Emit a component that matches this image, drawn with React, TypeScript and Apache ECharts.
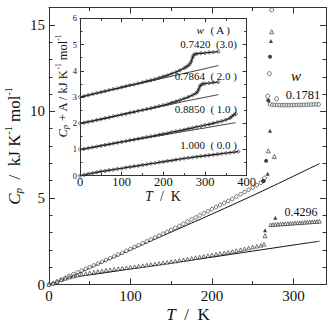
import React, { useEffect, useRef } from "react";
import * as echarts from "echarts";

// ---------- main plot data (T / K, Cp / kJ K-1 mol-1) ----------
const w1781Data: [number, number][] = [
  [0, 0], [5, 0.06], [10, 0.17], [15, 0.28], [20, 0.39], [25, 0.5], [30, 0.6], [35, 0.7], [40, 0.8], [45, 0.9],
  [50, 1.0], [55, 1.1], [60, 1.2], [65, 1.31], [70, 1.41], [75, 1.52], [80, 1.62], [85, 1.73], [90, 1.83], [95, 1.94],
  [100, 2.05], [105, 2.16], [110, 2.27], [115, 2.38], [120, 2.49], [125, 2.6], [130, 2.71], [135, 2.82], [140, 2.93],
  [145, 3.04], [150, 3.15], [155, 3.27], [160, 3.39], [165, 3.51], [170, 3.63], [175, 3.75], [180, 3.87], [185, 3.99],
  [190, 4.11], [195, 4.23], [200, 4.35], [205, 4.47], [210, 4.59], [215, 4.71], [220, 4.83], [225, 4.95], [230, 5.08],
  [235, 5.21], [240, 5.34], [245, 5.47], [250, 5.6], [255, 5.74], [260, 5.88], [263, 5.98],
  [271, 10.42], [274, 10.38], [277, 10.37], [280, 10.37], [283, 10.36], [286, 10.36], [289, 10.36], [292, 10.36],
  [295, 10.36], [298, 10.36], [301, 10.37], [304, 10.37], [307, 10.37], [310, 10.37], [313, 10.38], [316, 10.38],
  [319, 10.39], [322, 10.39], [325, 10.4], [328, 10.4], [331, 10.4],
];
const w1781OpenCircles: [number, number][] = [[264.5, 6.15], [268.4, 10.88], [270.5, 12.18], [273.3, 15.86], [279.4, 10.73]];
const w1781FilledCircles: [number, number][] = [[263.3, 5.98], [266.5, 7.14], [269.2, 10.63], [271.3, 13.15]];
const w1781OpenTriangles: [number, number][] = [[269.2, 7.72], [276.6, 7.4], [273.3, 14.6]];
const w1781FilledTriangles: [number, number][] = [[268.4, 6.4], [271.3, 8.88], [272.5, 14.06]];
const w1781Lattice: [number, number][] = [[0, 0], [20, 0.3], [50, 0.95], [100, 2.0], [150, 3.03], [200, 4.07], [262, 5.4], [332, 6.98]];

const w4296Data: [number, number][] = [
  [0, 0], [5, 0.07], [10, 0.17], [15, 0.27], [20, 0.35], [25, 0.42], [30, 0.48], [35, 0.54], [40, 0.59], [45, 0.63],
  [50, 0.67], [55, 0.71], [60, 0.75], [65, 0.78], [70, 0.82], [75, 0.85], [80, 0.88], [85, 0.91], [90, 0.94], [95, 0.97],
  [100, 1.0], [105, 1.03], [110, 1.06], [115, 1.09], [120, 1.12], [125, 1.15], [130, 1.18], [135, 1.22], [140, 1.25],
  [145, 1.28], [150, 1.32], [155, 1.35], [160, 1.39], [165, 1.43], [170, 1.47], [175, 1.51], [180, 1.55], [185, 1.59],
  [190, 1.63], [195, 1.67], [200, 1.71], [205, 1.75], [210, 1.79], [215, 1.83], [220, 1.87], [225, 1.91], [230, 1.96],
  [235, 2.01], [240, 2.06], [245, 2.11], [250, 2.16], [255, 2.21], [260, 2.26], [264, 2.32],
  [272, 3.45], [275, 3.46], [278, 3.47], [281, 3.48], [284, 3.49], [287, 3.5], [290, 3.51], [293, 3.52], [296, 3.53],
  [299, 3.54], [302, 3.55], [305, 3.56], [308, 3.57], [311, 3.58], [314, 3.59], [317, 3.6], [320, 3.61], [323, 3.62],
  [326, 3.63], [329, 3.64], [332, 3.65],
];
const w4296FilledTriangles: [number, number][] = [[265.2, 3.13], [277.8, 3.85]];
const w4296OpenTriangles: [number, number][] = [[265.2, 2.82]];
const w4296Lattice: [number, number][] = [[0, 0], [10, 0.15], [20, 0.3], [30, 0.42], [40, 0.5], [60, 0.62], [100, 0.9], [150, 1.24], [200, 1.58], [250, 1.93], [300, 2.28], [332, 2.5]];

// ---------- inset data (T / K, Cp + A) ----------
const ins0742: [number, number][] = [
  [0, 3.0], [10, 3.03], [20, 3.07], [30, 3.11], [40, 3.15], [50, 3.18], [60, 3.22], [70, 3.26], [80, 3.3], [90, 3.33],
  [100, 3.37], [110, 3.41], [120, 3.45], [130, 3.48], [140, 3.52], [150, 3.56], [160, 3.6], [170, 3.64], [180, 3.68],
  [190, 3.73], [200, 3.78], [210, 3.83], [220, 3.89], [230, 3.95], [240, 4.02], [250, 4.1], [255, 4.15], [260, 4.2],
  [264, 4.27], [267, 4.36], [270, 4.5], [272, 4.58], [275, 4.63], [280, 4.65], [290, 4.67], [300, 4.68], [310, 4.7],
  [320, 4.71], [332, 4.73],
];
const ins0742Base: [number, number][] = [[0, 3.0], [50, 3.18], [100, 3.36], [150, 3.54], [200, 3.72], [250, 3.9], [300, 4.08], [332, 4.2]];
const ins0786: [number, number][] = [
  [0, 2.0], [10, 2.02], [20, 2.05], [30, 2.08], [40, 2.12], [50, 2.15], [60, 2.19], [70, 2.22], [80, 2.26], [90, 2.29],
  [100, 2.33], [110, 2.36], [120, 2.4], [130, 2.43], [140, 2.47], [150, 2.5], [160, 2.54], [170, 2.57], [180, 2.61],
  [190, 2.65], [200, 2.69], [210, 2.73], [220, 2.78], [230, 2.83], [240, 2.88], [250, 2.94], [260, 3.0], [270, 3.07],
  [278, 3.14], [282, 3.2], [285, 3.3], [288, 3.42], [291, 3.47], [295, 3.5], [300, 3.51], [310, 3.53], [320, 3.55],
  [332, 3.57],
];
const ins0786Base: [number, number][] = [[0, 2.0], [50, 2.16], [100, 2.33], [150, 2.5], [200, 2.66], [250, 2.83], [300, 2.99], [332, 3.09]];
const ins0885: [number, number][] = [
  [0, 1.0], [10, 1.02], [20, 1.05], [30, 1.08], [40, 1.11], [50, 1.14], [60, 1.17], [70, 1.2], [80, 1.23], [90, 1.26],
  [100, 1.29], [110, 1.32], [120, 1.35], [130, 1.38], [140, 1.41], [150, 1.44], [160, 1.47], [170, 1.5], [180, 1.53],
  [190, 1.56], [200, 1.59], [210, 1.62], [220, 1.66], [230, 1.69], [240, 1.72], [250, 1.75], [260, 1.79], [270, 1.82],
  [280, 1.86], [290, 1.89], [300, 1.93], [310, 1.96], [320, 2.0], [330, 2.04], [340, 2.08], [350, 2.13], [360, 2.2],
  [365, 2.27], [370, 2.33], [374, 2.35],
];
const ins0885Base: [number, number][] = [[0, 1.0], [50, 1.14], [100, 1.28], [150, 1.42], [200, 1.55], [250, 1.69], [300, 1.82], [350, 1.96], [373, 2.02]];
const ins1000: [number, number][] = [
  [0, 0], [10, 0.03], [20, 0.07], [30, 0.1], [40, 0.13], [50, 0.16], [60, 0.18], [70, 0.21], [80, 0.23], [90, 0.26],
  [100, 0.28], [110, 0.31], [120, 0.33], [130, 0.36], [140, 0.38], [150, 0.41], [160, 0.43], [170, 0.46], [180, 0.48],
  [190, 0.51], [200, 0.53], [210, 0.56], [220, 0.58], [230, 0.61], [240, 0.63], [250, 0.66], [260, 0.68], [270, 0.7],
  [280, 0.72], [290, 0.74], [300, 0.76], [310, 0.78], [320, 0.8], [330, 0.82], [340, 0.84], [350, 0.86], [360, 0.88],
  [370, 0.9], [380, 0.92],
];

const mainXTicks = [0, 100, 200, 300];
const mainYTicks = [0, 5, 10, 15];
const insetXTicks = [0, 100, 200, 300, 400];
const insetYTicks = [0, 1, 2, 3, 4, 5, 6];

const insetLabels = [
  { text: "0.7420  (3.0)", y: 44 },
  { text: "0.7864  ( 2.0 )", y: 76 },
  { text: "0.8850  ( 1.0 )", y: 108.5 },
  { text: "1.000  ( 0.0 )", y: 145 },
];

const SERIF = "'Liberation Serif', 'DejaVu Serif', serif";
const INK = "#222";
const AXIS = "#333";

function axis(extra: any) {
  return {
    type: "value",
    axisLine: { show: true, onZero: false, lineStyle: { color: AXIS, width: 1 } },
    splitLine: { show: false },
    minorSplitLine: { show: false },
    ...extra,
  };
}

export default function App() {
  const ref = useRef<HTMLDivElement>(null);
  useEffect(() => {
    if (!ref.current) return;
    const chart = echarts.init(ref.current, undefined, { renderer: "svg" });

    const mainTick = { show: true, inside: true, length: 6, lineStyle: { color: AXIS } };
    const mainMinorX = { show: true, splitNumber: 2, length: 3.5, lineStyle: { color: AXIS } };
    const mainMinorY = { show: true, splitNumber: 5, length: 3.5, lineStyle: { color: AXIS } };
    const insTick = { show: true, inside: true, length: 4, lineStyle: { color: AXIS } };
    const insMinor = { show: true, splitNumber: 2, length: 2.5, lineStyle: { color: AXIS } };

    const fmt = (ticks: number[]) => (v: number) => (ticks.includes(v) ? String(v) : "");

    const openSym = (sym: string, size: number, data: [number, number][]) => ({
      type: "scatter",
      xAxisIndex: 0,
      yAxisIndex: 0,
      symbol: sym,
      symbolSize: size,
      data,
      itemStyle: { color: "#fff", borderColor: INK, borderWidth: 0.8 },
      z: 3,
    });
    const filledSym = (sym: string, size: number, data: [number, number][]) => ({
      type: "scatter",
      xAxisIndex: 0,
      yAxisIndex: 0,
      symbol: sym,
      symbolSize: size,
      data,
      itemStyle: { color: "#111" },
      z: 4,
    });
    const thinLine = (data: [number, number][], xi: number, yi: number, w = 1, z = 2) => ({
      type: "line",
      xAxisIndex: xi,
      yAxisIndex: yi,
      data,
      showSymbol: false,
      smooth: 0.3,
      lineStyle: { color: "#111", width: w },
      z,
    });
    const insetCurve = (data: [number, number][]) => ({
      type: "line",
      xAxisIndex: 2,
      yAxisIndex: 2,
      data,
      symbol: "circle",
      symbolSize: 3,
      showSymbol: true,
      lineStyle: { color: INK, width: 1.4 },
      itemStyle: { color: "transparent", borderColor: "#333", borderWidth: 0.7 },
      z: 8,
    });

    chart.setOption({
      animation: false,
      backgroundColor: "#fff",
      grid: [
        { left: 49, top: 7.5, width: 277, height: 277 },
        { left: 80, top: 18.3, width: 166.7, height: 157.4, show: true, backgroundColor: "#fff", borderWidth: 0, z: 5 },
      ],
      xAxis: [
        axis({
          gridIndex: 0, position: "bottom", min: 0, max: 340, interval: 100,
          axisTick: mainTick, minorTick: mainMinorX,
          axisLabel: { fontSize: 15, fontFamily: SERIF, color: "#111", margin: 4, formatter: fmt(mainXTicks) },
        }),
        axis({
          gridIndex: 0, position: "top", min: 0, max: 340, interval: 100,
          axisTick: mainTick, minorTick: mainMinorX, axisLabel: { show: false },
        }),
        axis({
          gridIndex: 1, position: "bottom", min: 0, max: 400, interval: 100, z: 9,
          axisTick: insTick, minorTick: insMinor,
          axisLabel: { fontSize: 12.5, fontFamily: SERIF, color: "#111", margin: 0, formatter: fmt(insetXTicks) },
        }),
        axis({
          gridIndex: 1, position: "top", min: 0, max: 400, interval: 100, z: 9,
          axisTick: insTick, minorTick: insMinor, axisLabel: { show: false },
        }),
      ],
      yAxis: [
        axis({
          gridIndex: 0, position: "left", min: 0, max: 16, interval: 5,
          axisTick: mainTick, minorTick: mainMinorY,
          axisLabel: { fontSize: 15, fontFamily: SERIF, color: "#111", margin: 4, formatter: fmt(mainYTicks) },
        }),
        axis({
          gridIndex: 0, position: "right", min: 0, max: 16, interval: 5,
          axisTick: mainTick, minorTick: mainMinorY, axisLabel: { show: false },
        }),
        axis({
          gridIndex: 1, position: "left", min: 0, max: 6, interval: 1, z: 9,
          axisTick: insTick, minorTick: insMinor,
          axisLabel: { fontSize: 8.5, fontFamily: SERIF, color: "#111", margin: 3, formatter: fmt(insetYTicks) },
        }),
        axis({
          gridIndex: 1, position: "right", min: 0, max: 6, interval: 1, z: 9,
          axisTick: insTick, minorTick: insMinor, axisLabel: { show: false },
        }),
      ],
      series: [
        thinLine(w1781Lattice, 0, 0),
        thinLine(w4296Lattice, 0, 0),
        openSym("circle", 3.6, w1781Data),
        openSym("circle", 4, w1781OpenCircles),
        openSym("triangle", 4, w1781OpenTriangles),
        filledSym("circle", 4, w1781FilledCircles),
        filledSym("triangle", 4, w1781FilledTriangles),
        openSym("triangle", 3.6, w4296Data),
        openSym("triangle", 4, w4296OpenTriangles),
        filledSym("triangle", 4, w4296FilledTriangles),
        thinLine(ins0742Base, 2, 2, 0.8, 7),
        thinLine(ins0786Base, 2, 2, 0.8, 7),
        thinLine(ins0885Base, 2, 2, 0.8, 7),
        insetCurve(ins0742),
        insetCurve(ins0786),
        insetCurve(ins0885),
        insetCurve(ins1000),
      ],
      graphic: [
        {
          type: "text", x: 13, y: 146, rotation: Math.PI / 2, z: 10,
          style: {
            text: "{c|C}{p|p}{n|  /  kJ K}{s|-1}{n| mol}{s|-1}",
            align: "center", verticalAlign: "middle", textAlign: "center", textVerticalAlign: "middle",
            fill: "#111",
            rich: {
              c: { fontFamily: SERIF, fontSize: 17, fontStyle: "italic", verticalAlign: "bottom", lineHeight: 20 },
              p: { fontFamily: SERIF, fontSize: 11, fontStyle: "italic", verticalAlign: "bottom", lineHeight: 16 },
              n: { fontFamily: SERIF, fontSize: 17, verticalAlign: "bottom", lineHeight: 20 },
              s: { fontFamily: SERIF, fontSize: 10, verticalAlign: "top", lineHeight: 12 },
            },
          },
        },
        {
          type: "text", x: 188, y: 314, z: 10,
          style: {
            text: "{i|T}{n|  /  K}",
            align: "center", verticalAlign: "middle", textAlign: "center", textVerticalAlign: "middle",
            fill: "#111",
            rich: {
              i: { fontFamily: SERIF, fontSize: 17, fontStyle: "italic" },
              n: { fontFamily: SERIF, fontSize: 17 },
            },
          },
        },
        {
          type: "text", x: 62, y: 86, rotation: Math.PI / 2, z: 10,
          style: {
            text: "{c|C}{p|p}{n| + A / kJ K}{s|-1}{n| mol}{s|-1}",
            align: "center", verticalAlign: "middle", textAlign: "center", textVerticalAlign: "middle",
            fill: "#111",
            rich: {
              c: { fontFamily: SERIF, fontSize: 12.5, fontStyle: "italic", verticalAlign: "bottom", lineHeight: 15 },
              p: { fontFamily: SERIF, fontSize: 8.5, fontStyle: "italic", verticalAlign: "bottom", lineHeight: 12 },
              n: { fontFamily: SERIF, fontSize: 12.5, verticalAlign: "bottom", lineHeight: 15 },
              s: { fontFamily: SERIF, fontSize: 7.5, verticalAlign: "top", lineHeight: 9 },
            },
          },
        },
        {
          type: "text", x: 163, y: 196, z: 10,
          style: {
            text: "{i|T}{n|  /  K}",
            align: "center", verticalAlign: "middle", textAlign: "center", textVerticalAlign: "middle",
            fill: "#111",
            rich: {
              i: { fontFamily: SERIF, fontSize: 14, fontStyle: "italic", lineHeight: 14 },
              n: { fontFamily: SERIF, fontSize: 14, lineHeight: 14 },
            },
          },
        },
        {
          type: "text", x: 230, y: 30, z: 10,
          style: {
            text: "{i|w}{n|  ( A )}",
            align: "right", verticalAlign: "middle", textAlign: "right", textVerticalAlign: "middle",
            fill: "#111",
            rich: {
              i: { fontFamily: SERIF, fontSize: 11, fontStyle: "italic" },
              n: { fontFamily: SERIF, fontSize: 11 },
            },
          },
        },
        ...insetLabels.map((l) => ({
          type: "text", x: 237, y: l.y, z: 10,
          style: {
            text: l.text, fontFamily: SERIF, fontSize: 11, fill: "#111",
            align: "right", verticalAlign: "middle", textAlign: "right", textVerticalAlign: "middle",
          },
        })),
        {
          type: "text", x: 296, y: 76, z: 10,
          style: {
            text: "w", fontFamily: SERIF, fontSize: 15, fontStyle: "italic", fill: "#111",
            align: "center", verticalAlign: "middle", textAlign: "center", textVerticalAlign: "middle",
          },
        },
        {
          type: "text", x: 303, y: 95, z: 10,
          style: {
            text: "0.1781", fontFamily: SERIF, fontSize: 12.5, fill: "#111",
            align: "center", verticalAlign: "middle", textAlign: "center", textVerticalAlign: "middle",
          },
        },
        {
          type: "text", x: 301, y: 212, z: 10,
          style: {
            text: "0.4296", fontFamily: SERIF, fontSize: 12, fill: "#111",
            align: "center", verticalAlign: "middle", textAlign: "center", textVerticalAlign: "middle",
          },
        },
      ],
    });
    return () => chart.dispose();
  }, []);

  return (
    <div
      ref={ref}
      style={{ position: "fixed", left: 0, top: 0, width: 330, height: 323, background: "#fff" }}
    />
  );
}
